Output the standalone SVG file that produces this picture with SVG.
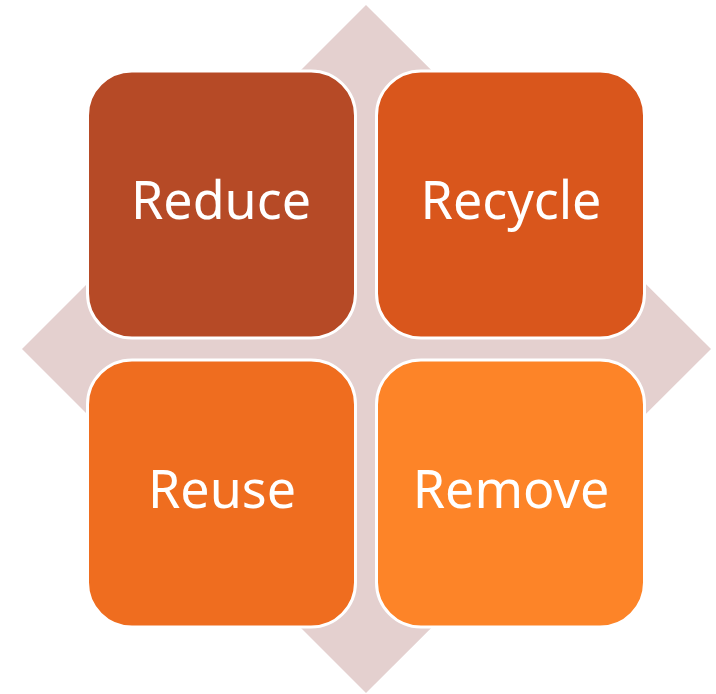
<svg xmlns="http://www.w3.org/2000/svg" width="716" height="694" viewBox="0 0 716 694">
  <style>
    .box { stroke: #FFFFFF; stroke-width: 3; }
    .lbl { font-family: "Noto Sans", "Open Sans", "Liberation Sans", sans-serif; font-size: 52px; fill: #FFFFFF; text-anchor: middle; }
  </style>
  <rect width="716" height="694" fill="#FFFFFF"/>
  <g id="diamond">
    <polygon points="366,5 711,349 366,693 22,349" fill="#E4D0CF"/>
  </g>
  <g id="connectors"></g>
  <g id="reduce">
    <rect class="box" x="87.5" y="71" width="268" height="267" rx="44.5" fill="#B64A26"/>
    <text class="lbl" x="221" y="219">Reduce</text>
  </g>
  <g id="recycle">
    <rect class="box" x="376.5" y="71" width="268" height="267" rx="44.5" fill="#D9561C"/>
    <text class="lbl" x="511" y="219">Recycle</text>
  </g>
  <g id="reuse">
    <rect class="box" x="87.5" y="360" width="268" height="267" rx="44.5" fill="#EF6D1F"/>
    <text class="lbl" x="222" y="508">Reuse</text>
  </g>
  <g id="remove">
    <rect class="box" x="376.5" y="360" width="268" height="267" rx="44.5" fill="#FD8428"/>
    <text class="lbl" x="511" y="508">Remove</text>
  </g>
</svg>
